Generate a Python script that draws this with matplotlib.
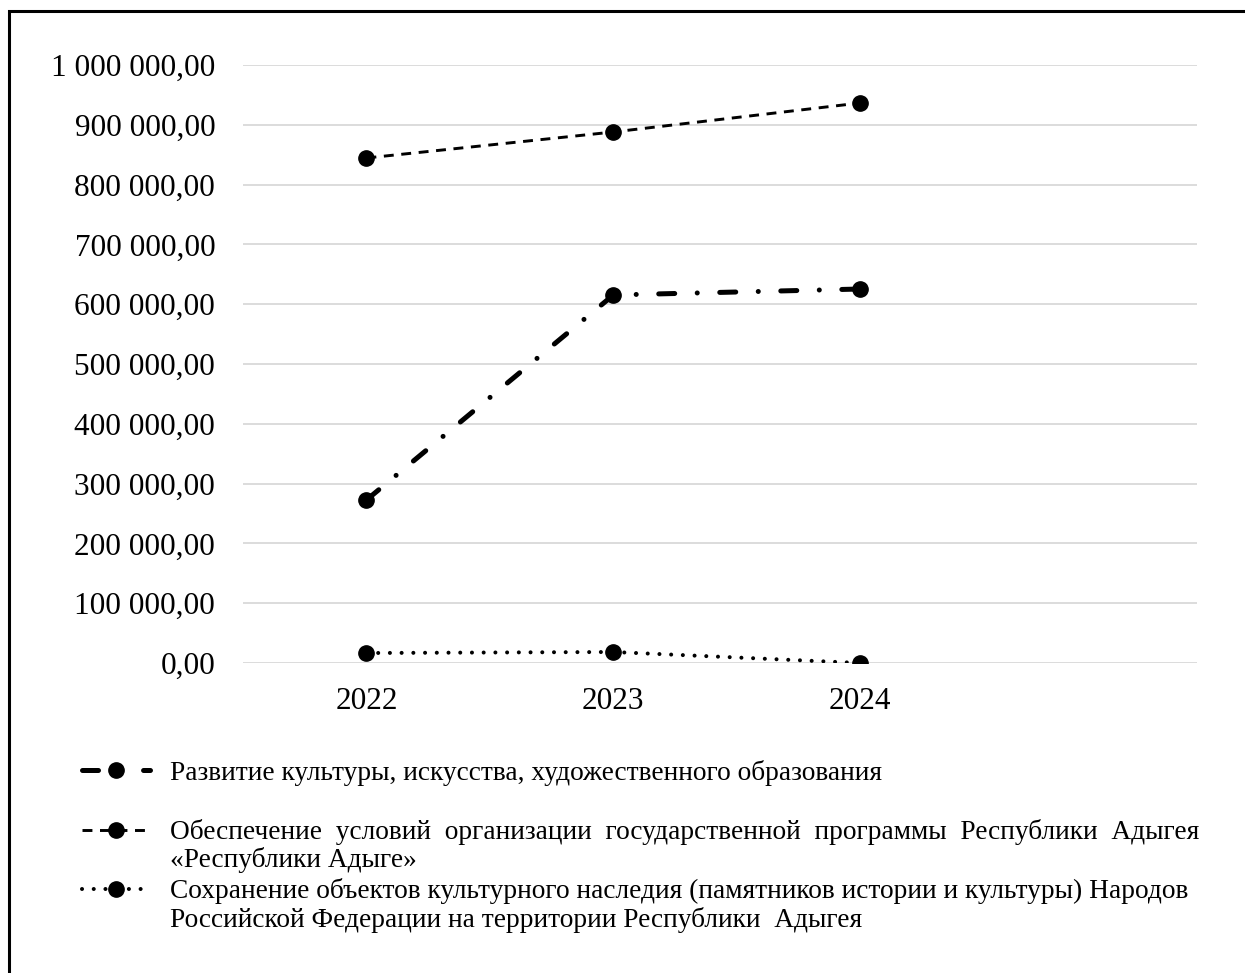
import matplotlib
matplotlib.use("Agg")
import matplotlib.pyplot as plt
from matplotlib.ticker import FuncFormatter, MultipleLocator
from matplotlib.patches import Rectangle

years = ["2022", "2023", "2024"]
culture = [272600, 615400, 625400]
program = [844500, 888000, 936500]
heritage = [16700, 18400, 0]

label_culture = "Развитие культуры, искусства, художественного образования"
label_program = "Обеспечение условий организации государственной программы Республики Адыгея"
label_program_2 = "«Республики Адыге»"
label_heritage = "Сохранение объектов культурного наследия (памятников истории и культуры) Народов"
label_heritage_2 = "Российской Федерации на территории Республики  Адыгея"

plt.rcParams['font.family'] = ['Liberation Serif', 'DejaVu Serif']
LEG_FS = 19.7

fig = plt.figure(figsize=(12.45, 9.73), dpi=100)
ax = fig.add_axes([243 / 1245, 1 - 663 / 973, (1197 - 243) / 1245, (663 - 65) / 973])

x = list(range(len(years)))

l1, = ax.plot(x, culture, color='black', lw=3.6, marker='o', ms=11,
              dashes=(3.2, 4.5, 0.01, 4.5), dash_capstyle='round', label=label_culture)
l2, = ax.plot(x, program, color='black', lw=2.1, marker='o', ms=11,
              dashes=(3.4, 2.6), label=label_program)
l3, = ax.plot(x, heritage, color='black', lw=2.9, marker='o', ms=11,
              dashes=(0.01, 2.9), dash_capstyle='round', label=label_heritage)

ax.set_xlim(-0.5, 3.364)
ax.set_ylim(0, 1000000)
ax.yaxis.set_major_locator(MultipleLocator(100000))


def fmt(v, pos):
    return f"{v:,.2f}".replace(",", " ").replace(".", ",")


ax.yaxis.set_major_formatter(FuncFormatter(fmt))
ax.set_xticks(x)
ax.set_xticklabels(years)
ax.tick_params(axis='both', length=0, labelsize=22.5)
ax.tick_params(axis='y', pad=20)
ax.tick_params(axis='x', pad=17)
ax.grid(axis='y', color='#d9d9d9', lw=1.3)
ax.set_axisbelow(True)
for sp in ax.spines.values():
    sp.set_visible(False)


# stretch a line to a given pixel width by widening the gaps between words
def justify(text, width_px, fs):
    r = fig.canvas.get_renderer()
    words = text.split(" ")
    gaps = [1] * (len(words) - 1)

    def build():
        return "".join(w + " " * g for w, g in zip(words, gaps + [0]))

    t = fig.text(0, 0, build(), fontsize=fs)
    i = 0
    while t.get_window_extent(r).width < width_px:
        gaps[i % len(gaps)] += 1
        t.set_text(build())
        i += 1
    s = build()
    t.remove()
    return s


prog_label = justify(label_program, 1197 - 172, LEG_FS)

leg = fig.legend(handles=[l1, l2, l3], labels=[label_culture, prog_label, label_heritage],
                 loc='upper left', bbox_to_anchor=(82 / 1245, 1 - 760 / 973),
                 frameon=False, fontsize=LEG_FS, handlelength=2.5, handletextpad=0.72,
                 labelspacing=1.215, borderpad=0, borderaxespad=0)

fig.text(170 / 1245, 1 - 860 / 973, label_program_2, fontsize=LEG_FS, va='center')
fig.text(170 / 1245, 1 - 920 / 973, label_heritage_2, fontsize=LEG_FS, va='center')

# frame around the figure (left and top edges visible)
fig.patches.append(Rectangle((9 / 1245, -0.1), 1.2, 1.1 - 11 / 973, transform=fig.transFigure,
                             fill=False, edgecolor='black', lw=2.2))

fig.savefig("out.png", dpi=100)
